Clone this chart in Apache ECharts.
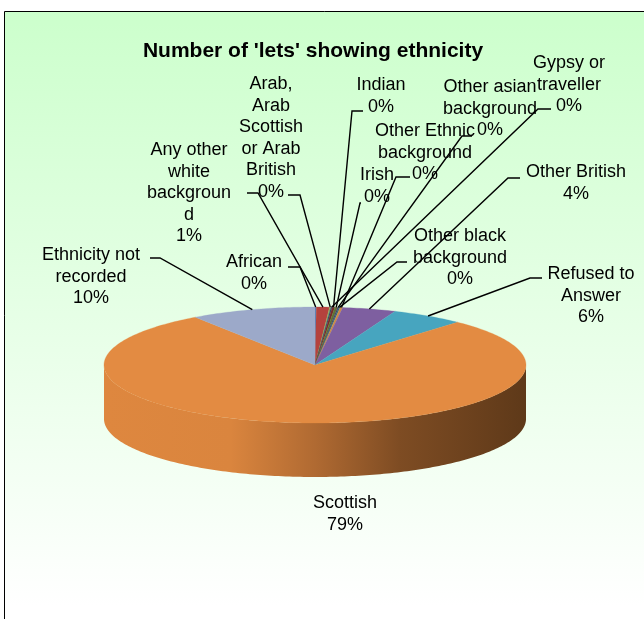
<!DOCTYPE html>
<html><head><meta charset="utf-8">
<script src="https://cdn.jsdelivr.net/npm/echarts@6/dist/echarts.min.js"></script>
<style>html,body{margin:0;padding:0;background:#fff;}#main{width:644px;height:619px;}</style>
</head><body><div id="main"></div>
<script>
// ---- data ----
const categories = ['African','Any other white background','Arab, Arab Scottish or Arab British','Gypsy or traveller','Indian','Irish','Other asian background','Other black background','Other Ethnic background','Other British','Refused to Answer','Scottish','Ethnicity not recorded'];
const labelText = ['African','Any other\nwhite\nbackgroun\nd','Arab,\nArab\nScottish\nor Arab\nBritish','Gypsy or\ntraveller','Indian','Irish','Other asian\nbackground','Other black\nbackground','Other Ethnic\nbackground','Other British','Refused to\nAnswer','Scottish','Ethnicity not\nrecorded'];
const values = [0.1, 1.0, 0.1, 0.1, 0.2, 0.2, 0.1, 0.1, 0.2, 4.1, 5.6, 78.6, 9.6];
const titleText = "Number of 'lets' showing ethnicity";

// ---- styles / layout ----
const colors = ['#4F81BD','#B5423D','#8FAE5A','#2C4D75','#772C2A','#5F7530','#4D3B62','#276A7C','#D08A45','#7E5FA0','#47A5BF','#E38B42','#9CA9C9'];
// [centerX, capTop of first line, stubStartX, stubY, stubEndX]  (stub null => none)
const labelLayout = [
  [254, 255, 288, 267, 300],
  [189, 143, 247, 193, 258],
  [271, 77, 288, 195, 300],
  [569, 56, 551, 109, 538],
  [381, 78, 363, 111, 352],
  [377, 168, 361, 203, 360],
  [490, 80, 472, 136, 462],
  [460, 229, 407, 262, 397],
  [425, 124, 410, 177, 396],
  [576, 165, 520, 178, 508],
  [591, 267, 542, 278, 530],
  [345, 496, null, null, null],
  [91, 248, 150, 258, 160]
];
const PIE = {cx: 315, cy: 365, a: 211, b: 58, depth: 54};
const FONT = '18px "Liberation Sans", Arial, sans-serif';
const LH = 21.5;

const total = values.reduce((s, v) => s + v, 0);
const starts = [];
values.reduce((acc, v, i) => { starts[i] = acc; return acc + v; }, 0);

function pt(theta, dy) {
  return [PIE.cx + PIE.a * Math.sin(theta), PIE.cy - PIE.b * Math.cos(theta) + (dy || 0)];
}
function arc(t0, t1, dy) {
  const n = Math.max(2, Math.ceil((t1 - t0) / (Math.PI / 180)) + 1);
  const out = [];
  for (let k = 0; k < n; k++) out.push(pt(t0 + (t1 - t0) * k / (n - 1), dy));
  return out;
}

const sideGradient = {
  type: 'linear', x: PIE.cx - PIE.a, y: 0, x2: PIE.cx + PIE.a, y2: 0, global: true,
  colorStops: [
    {offset: 0, color: '#DE873F'}, {offset: 0.3, color: '#DA853E'},
    {offset: 0.5, color: '#B06A32'}, {offset: 0.7, color: '#7E4C23'},
    {offset: 1, color: '#5E3919'}
  ]
};

function renderItem(params, api) {
  const i = params.dataIndex;
  const v = api.value(1);
  const t0 = starts[i] / total * 2 * Math.PI;
  const t1 = (starts[i] + v) / total * 2 * Math.PI;
  const tm = (t0 + t1) / 2;
  const children = [];
  // front side wall
  const s0 = Math.max(t0, Math.PI / 2), s1 = Math.min(t1, 3 * Math.PI / 2);
  if (s1 > s0) {
    const topArc = arc(s0, s1, 0);
    const botArc = arc(s0, s1, PIE.depth).reverse();
    children.push({type: 'polygon', shape: {points: topArc.concat(botArc)},
      style: {fill: i === 11 ? sideGradient : colors[i]}, z2: 1});
  }
  // top face
  children.push({type: 'polygon', shape: {points: [[PIE.cx, PIE.cy]].concat(arc(t0, t1, 0))},
    style: {fill: colors[i], stroke: colors[i], lineWidth: 0.3}, z2: 2});
  // label
  const L = labelLayout[i];
  const pct = Math.round(v / total * 100) + '%';
  children.push({type: 'text', z2: 10,
    style: {text: labelText[i] + '\n' + pct, x: L[0], y: L[1] - 3.5, align: 'center', verticalAlign: 'top',
      font: FONT, lineHeight: LH, fill: '#000'}});
  if (L[2] !== null) {
    const end = pt(tm, 0);
    children.push({type: 'polyline', z2: 9,
      shape: {points: [[L[2], L[3]], [L[4], L[3]], end]},
      style: {stroke: '#000', lineWidth: 1.4, fill: null}});
  }
  return {type: 'group', children: children};
}

const chart = echarts.init(document.getElementById('main'), null, {renderer: 'canvas'});
chart.setOption({
  animation: false,
  graphic: [
    {type: 'rect', z: -10, silent: true,
      shape: {x: 4.5, y: 11.5, width: 700, height: 700},
      style: {stroke: '#000', lineWidth: 1,
        fill: {type: 'linear', x: 0, y: 0, x2: 0, y2: 1,
          colorStops: [{offset: 0, color: '#CCFFCC'}, {offset: 0.85, color: '#FFFFFF'}, {offset: 1, color: '#FFFFFF'}]}}},
    {type: 'text', z: 10, style: {text: titleText, x: 313, y: 39.5, align: 'center', verticalAlign: 'top',
      font: 'bold 21px "Liberation Sans", Arial, sans-serif', lineHeight: 24, fill: '#000'}}
  ],
  series: [{
    type: 'custom',
    coordinateSystem: 'none',
    renderItem: renderItem,
    data: values.map((v, i) => [i, v]),
    silent: true
  }]
});
</script></body></html>
